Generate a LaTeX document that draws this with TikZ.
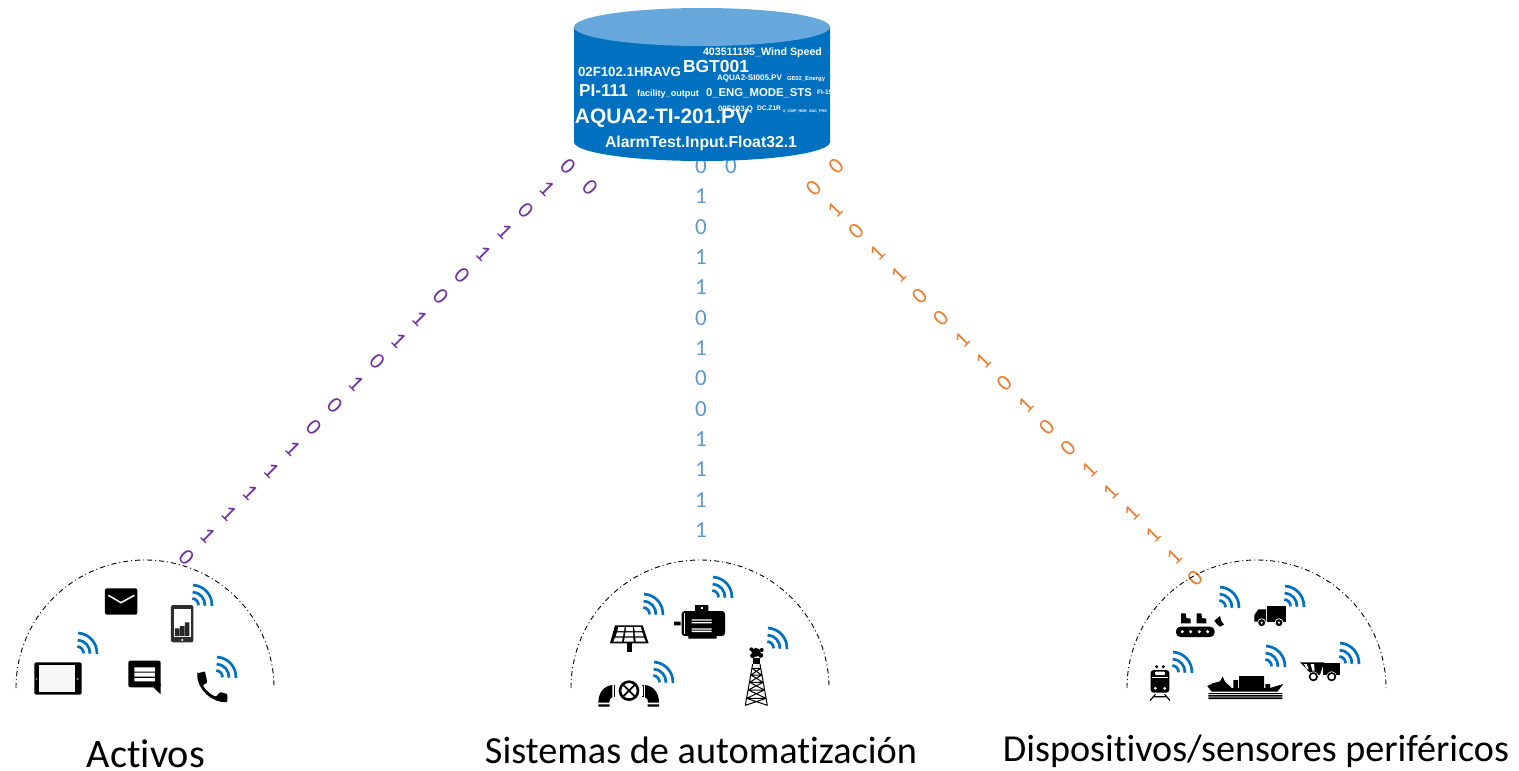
\documentclass[tikz,border=0pt]{standalone}
\usepackage{fontspec}
\setmainfont{Carlito}[Ligatures=NoCommon]
\newfontfamily\arialfont{Liberation Sans}[BoldFont={Liberation Sans Bold}]
\definecolor{cylblue}{HTML}{0070C0}
\definecolor{cyltop}{HTML}{67A8DC}
\definecolor{purp}{HTML}{7030A0}
\definecolor{orng}{HTML}{ED7D31}
\definecolor{skyb}{HTML}{5B9BD5}
\newcommand\fitw[2]{\resizebox{#1pt}{!}{\strut\arialfont\bfseries #2}}
\newcommand\fitl[2]{\resizebox{#1pt}{!}{#2}}
\tikzset{
  wifiarc/.style={draw=cylblue,line width=2.7pt,line cap=butt},
  dome/.style={draw=black,line width=0.9pt,dash pattern=on 5pt off 3pt on 1pt off 3pt},
  tagtext/.style={text=white,inner sep=0pt,anchor=center},
  digit/.style={font=\fontsize{23}{23}\selectfont,inner sep=0pt,anchor=center},
  biglabel/.style={inner sep=0pt,anchor=base,text=black},
  zoomed/.style={x=0.33333pt,y=-0.33333pt},
}
\newcommand\wifi[3]{% name, x, y of arc centre
  \coordinate (#1) at (#2,#3);
  \foreach \r in {6.5,13,20}{
    \draw[wifiarc] (#2+\r*0.05,#3-\r*0.998) arc[start angle=87,end angle=-3,radius=\r pt];
  }
}
\begin{document}
\begin{tikzpicture}[x=1pt,y=-1pt]
\useasboundingbox (0,0) rectangle (1519,771);
% ---- binary streams
\foreach \d [count=\i from 0] in {0,1,0,1,1,0,0,1,1,0,1,0,0,1,1,1,1,1,0}{
  \node[digit,text=purp,rotate=-45] (p\i) at (568-21.2*\i,166.5+21.7*\i) {\d};
  \node[digit,text=orng,rotate=45] (o\i) at (813.5+21.2*\i,188+21.7*\i) {\d};
}
\node[digit,text=purp,rotate=-45] (pextra) at (590,187) {0};
\node[digit,text=orng,rotate=45] (oextra) at (836,166) {0};
\foreach \d [count=\i from 0] in {0,1,0,1,1,0,1,0,0,1,1,1,1}{
  \node[digit,text=skyb] (b\i) at (701,166+30.33*\i) {\d};
}
\node[digit,text=skyb] (bextra) at (731,166) {0};
% ---- cylinder
\fill[cylblue] (574,27) -- (574,142) arc[start angle=180,end angle=360,x radius=128pt,y radius=19pt] -- (830,27) -- cycle;
\fill[cyltop] (702,27) ellipse[x radius=128pt,y radius=19pt];
\node[tagtext] (t1) at (762.5,53) {\fitw{119}{403511195\_Wind Speed}};
\node[tagtext] (t2) at (629.5,73) {\fitw{103}{02F102.1HRAVG}};
\node[tagtext] (t3) at (716,68) {\fitw{66}{BGT001}};
\node[tagtext] (t4) at (749.5,79) {\fitw{65}{AQUA2-SI005.PV}};
\node[tagtext] (t5) at (806,79) {\fitw{38}{GE02\_Energy}};
\node[tagtext] (t6) at (603.5,92) {\fitw{49}{PI-111}};
\node[tagtext] (t7) at (668,94) {\fitw{62}{facility\_output}};
\node[tagtext] (t8) at (759,94) {\fitw{106}{0\_ENG\_MODE\_STS}};
\begin{scope}
  \clip (810,80) rectangle (830,105);
  \node[tagtext,anchor=west] (t9) at (817,93) {\fitw{15}{FI-15}};
\end{scope}
\node[tagtext] (t10) at (735.5,110) {\fitw{35}{00F103.Q}};
\node[tagtext] (t11) at (769,109) {\fitw{24}{DC.Z1R}};
\node[tagtext] (t12) at (805,112) {\fitw{44}{X\_CWP\_HDR\_SUC\_PRS}};
\node[tagtext] (t13) at (662,118) {\fitw{174}{AQUA2-TI-201.PV}};
\node[tagtext] (t14) at (701,144) {\fitw{192}{AlarmTest.Input.Float32.1}};
% ---- domes
\draw[dome] (16,688) arc[start angle=180,end angle=0,x radius=129pt,y radius=128pt];
\draw[dome] (571,688) arc[start angle=180,end angle=0,x radius=129pt,y radius=128pt];
\draw[dome] (1127,688) arc[start angle=180,end angle=0,x radius=129.5pt,y radius=128pt];
% ---- wifi
\wifi{w1}{192}{605}\wifi{w2}{77}{653}\wifi{w3}{216}{677}
\wifi{w4}{643}{614}\wifi{w5}{712}{597}\wifi{w6}{767}{648}\wifi{w7}{653}{682}
\wifi{w8}{1219}{607}\wifi{w9}{1284}{606}\wifi{w10}{1172}{672}\wifi{w11}{1265}{666}\wifi{w12}{1339}{663}
% ---- icons, group 1
\begin{scope}[shift={(0,540)},zoomed]
  % envelope
  \fill[black,rounded corners=2pt] (315,145) rectangle (412,224);
  \draw[white,line width=1.5pt] (325,166) -- (363,188) -- (403,166);
  % smartphone
  \fill[black!82,rounded corners=2pt] (513,195) rectangle (580,307);
  \fill[white] (522,207) rectangle (574,291);
  \fill[black!85] (525,265) rectangle (538,288) (540,258) rectangle (553,288) (555,247) rectangle (568,288);
  \fill[white] (547,300) circle[radius=1.1pt];
  % tablet
  \fill[black,rounded corners=2pt] (103,367) rectangle (245,464);
  \fill[black!3] (117,375) rectangle (224,457);
  \fill[black!45] (233,417) circle[radius=1.3pt] (109,417) circle[radius=1pt];
  % chat bubble
  \fill[black,rounded corners=2pt] (385,362) rectangle (482,442);
  \fill[black] (458,440) -- (482,463) -- (482,430) -- cycle;
  \fill[white] (403,382) rectangle (465,395) (403,398) rectangle (465,410) (403,414) rectangle (465,424);
  % handset
  \fill[black,rounded corners=1pt] (592,400) -- (615,394) -- (622,428) -- (608,436)
     .. controls (620,455) and (635,465) .. (648,470) -- (660,456) -- (682,462) -- (682,486)
     .. controls (640,490) and (590,450) .. (592,400) -- cycle;
\end{scope}
% ---- icons, group 2
\begin{scope}[shift={(560,560)},zoomed]
  % solar panel
  \fill[black] (165,196) -- (248,196) -- (266,250) -- (150,250) -- cycle;
  \fill[black] (200,250) rectangle (215,275);
  \fill[white] (175,201) -- (194,201) -- (192,213) -- (172,213) -- cycle
     (198,201) -- (218,201) -- (219,213) -- (197,213) -- cycle
     (222,201) -- (242,201) -- (246,213) -- (224,213) -- cycle
     (171,217) -- (191,217) -- (189,229) -- (167,229) -- cycle
     (196,217) -- (219,217) -- (220,229) -- (195,229) -- cycle
     (224,217) -- (247,217) -- (251,229) -- (225,229) -- cycle
     (165,233) -- (188,233) -- (186,245) -- (160,245) -- cycle
     (194,233) -- (220,233) -- (221,245) -- (192,245) -- cycle
     (226,233) -- (252,233) -- (257,245) -- (227,245) -- cycle;
  % motor
  \fill[black,rounded corners=3pt] (365,153) rectangle (495,228);
  \fill[black] (405,135) rectangle (445,153) (342,185) rectangle (362,196) (385,228) rectangle (470,236);
  \draw[white,line width=0.7pt] (372,160) -- (372,222);
  \fill[white] (395,178) rectangle (455,182) (395,186) rectangle (455,190) (395,205) rectangle (455,209) (395,212) rectangle (455,216);
  \fill[white] (423,141) rectangle (430,148);
  % tower
  \draw[black,line width=1pt] (578,312) -- (556,436) (600,312) -- (622,436)
     (576,325) -- (602,325) (573,345) -- (605,345) (569,367) -- (609,367) (565,390) -- (613,390) (560,415) -- (618,415)
     (576,325) -- (605,345) (602,325) -- (573,345) (573,345) -- (609,367) (605,345) -- (569,367)
     (569,367) -- (613,390) (609,367) -- (565,390) (565,390) -- (618,415) (613,390) -- (560,415)
     (560,415) -- (622,436) (618,415) -- (556,436);
  \fill[black] (588,277) circle[radius=4.5pt] (574,268) circle[radius=2pt] (605,270) circle[radius=2pt]
     (578,287) circle[radius=2.5pt] (602,286) circle[radius=2.5pt];
  \fill[black] (578,295) rectangle (600,312);
  % valve
  \draw[black,line width=2.6pt] (207,392) circle[radius=27];
  \draw[black,line width=1.8pt] (190,375) -- (224,409) (224,375) -- (190,409);
  \fill[black] (115,428) .. controls (115,400) and (130,378) .. (157,375) -- (157,412) .. controls (150,412) and (148,420) .. (148,428) -- cycle;
  \fill[black] (297,428) .. controls (297,400) and (282,378) .. (255,375) -- (255,412) .. controls (262,412) and (264,420) .. (264,428) -- cycle;
  \fill[black] (115,433) rectangle (149,440) (263,433) rectangle (297,440);
  \draw[black,line width=0.5pt] (166,375) -- (163,375) -- (163,410) -- (166,410) (246,375) -- (249,375) -- (249,410) -- (246,410);
\end{scope}
% ---- icons, group 3
\begin{scope}[shift={(1120,560)},zoomed]
  % conveyor
  \fill[black,rounded corners=4.5pt] (168,200) rectangle (284,231);
  \fill[white] (187,215) circle[radius=1.7pt] (212,215) circle[radius=1.7pt] (238,215) circle[radius=1.7pt] (263,215) circle[radius=1.7pt];
  \fill[black] (183,190) -- (183,160) -- (197,160) -- (199,174) -- (212,176) -- (212,190) -- cycle;
  \fill[black] (230,190) -- (230,160) -- (244,160) -- (246,174) -- (259,176) -- (259,190) -- cycle;
  \fill[black] (283,182) -- (300,168) -- (304,183) -- (312,194) -- (300,200) -- (290,192) -- cycle;
  % truck
  \fill[black] (442,137) rectangle (497,185);
  \fill[black] (403,185) -- (403,165) -- (415,148) -- (438,148) -- (438,185) -- cycle;
  \filldraw[black,draw=white,line width=0.7pt] (425,188) circle[radius=12] (477,188) circle[radius=12];
  \fill[white] (425,188) circle[radius=1.2pt] (477,188) circle[radius=1.2pt];
  % train
  \fill[black,rounded corners=3pt] (92,330) rectangle (148,398);
  \fill[white,rounded corners=1pt] (105,335) rectangle (135,345);
  \fill[white] (97,350) rectangle (143,353);
  \fill[white] (106,385) circle[radius=1.5pt] (134,385) circle[radius=1.5pt];
  \fill[black] (110,320) circle[radius=1.7pt] (130,320) circle[radius=1.7pt];
  \draw[black,line width=1.2pt] (106,403) -- (90,422) (134,403) -- (150,422) (100,410) -- (140,410);
  % ship
  \fill[black] (262,378) -- (278,370) -- (300,364) -- (308,350) -- (315,365) -- (335,384) -- (340,384) -- (340,360) -- (354,360) -- (354,384)
     -- (357,384) -- (357,348) -- (432,348) -- (432,384) -- (436,384) -- (436,372) -- (450,372) -- (450,384) -- (490,372) -- (472,395) -- (275,395) -- cycle;
  \fill[black] (265,399) rectangle (487,402) (265,405) rectangle (487,410) (265,412) rectangle (487,417);
  % dump truck
  \fill[black] (540,307) -- (612,307) -- (600,345) -- (570,338) -- cycle;
  \fill[black] (608,310) rectangle (660,345);
  \fill[white] (552,312) -- (560,312) -- (566,328) -- (559,326) -- cycle (572,312) -- (582,312) -- (584,332) -- (577,332) -- cycle;
  \filldraw[black,draw=white,line width=0.5pt] (580,350) circle[radius=15] (635,350) circle[radius=15];
  \fill[white] (580,350) circle[radius=2.7pt] (635,350) circle[radius=2.7pt];
\end{scope}
% ---- labels
\node[biglabel] (activos) at (146,767) {\fitl{118}{Activos}};
\node[biglabel] (sistemas) at (701,763) {\fitl{432}{Sistemas de automatización}};
\node[biglabel] (dispositivos) at (1256,761) {\fitl{506}{Dispositivos/sensores periféricos}};
\end{tikzpicture}
\end{document}
